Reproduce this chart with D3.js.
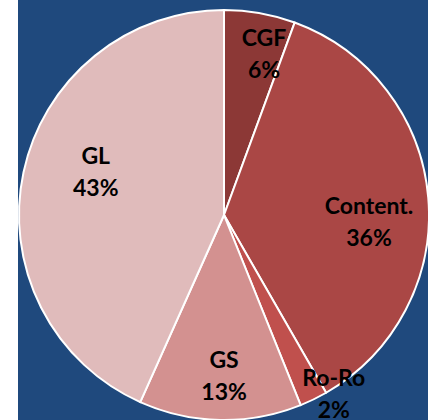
<!DOCTYPE html>
<html>
<head>
<meta charset="utf-8">
<script src="https://cdn.jsdelivr.net/npm/d3@7"></script>
<style>
  html, body { margin: 0; padding: 0; background: #ffffff; }
  svg { display: block; }
</style>
</head>
<body>
<svg class="pie"></svg>
<script>
// data
categories = ["CGF", "Content.", "Ro-Ro", "GS", "GL"];
shares = [5.6, 36.1, 2.2, 12.8, 43.3];
sliceColors = ["#8c3836", "#aa4745", "#c0504d", "#d39190", "#e0bbbb"];

// label placement: [angle offset deg, radius] of the first baseline
labelPlace = [[3.2, 174], [4.5, 145], [-6.8, 203], [-1.1, 153], [9.6, 138]];

WIDTH = 428;
HEIGHT = 420;
CX = 224;
CY = 215;
RADIUS = 205;

svg = d3.select(".pie").attr("width", WIDTH).attr("height", HEIGHT);

svg.append("rect")
    .attr("x", 18).attr("y", 0)
    .attr("width", WIDTH - 18).attr("height", HEIGHT)
    .attr("fill", "#1f497d");

pie = d3.pie().sort(null).value(function(d) { return d; });
arcs = pie(shares);
arc = d3.arc().innerRadius(0).outerRadius(RADIUS);

g = svg.append("g").attr("transform", "translate(" + CX + "," + CY + ")");

g.selectAll("path")
    .data(arcs)
    .enter().append("path")
    .attr("d", arc)
    .attr("fill", function(d, i) { return sliceColors[i]; })
    .attr("stroke", "#ffffff")
    .attr("stroke-width", 2)
    .attr("stroke-linejoin", "round");

total = d3.sum(shares);
labels = g.selectAll("text")
    .data(arcs)
    .enter().append("text")
    .attr("text-anchor", "middle")
    .attr("font-family", "Lato, 'Open Sans', sans-serif")
    .attr("font-weight", "bold")
    .attr("font-size", 23)
    .attr("fill", "#000")
    .attr("transform", function(d, i) {
        a = (d.startAngle + d.endAngle) / 2 + labelPlace[i][0] * Math.PI / 180;
        r = labelPlace[i][1];
        return "translate(" + (r * Math.sin(a)) + "," + (-r * Math.cos(a)) + ")";
    });

labels.append("tspan")
    .attr("x", 0).attr("y", 0)
    .text(function(d, i) { return categories[i]; });
labels.append("tspan")
    .attr("x", 0).attr("y", 32)
    .text(function(d, i) { return Math.round(d.value / total * 100) + "%"; });
</script>
</body>
</html>
